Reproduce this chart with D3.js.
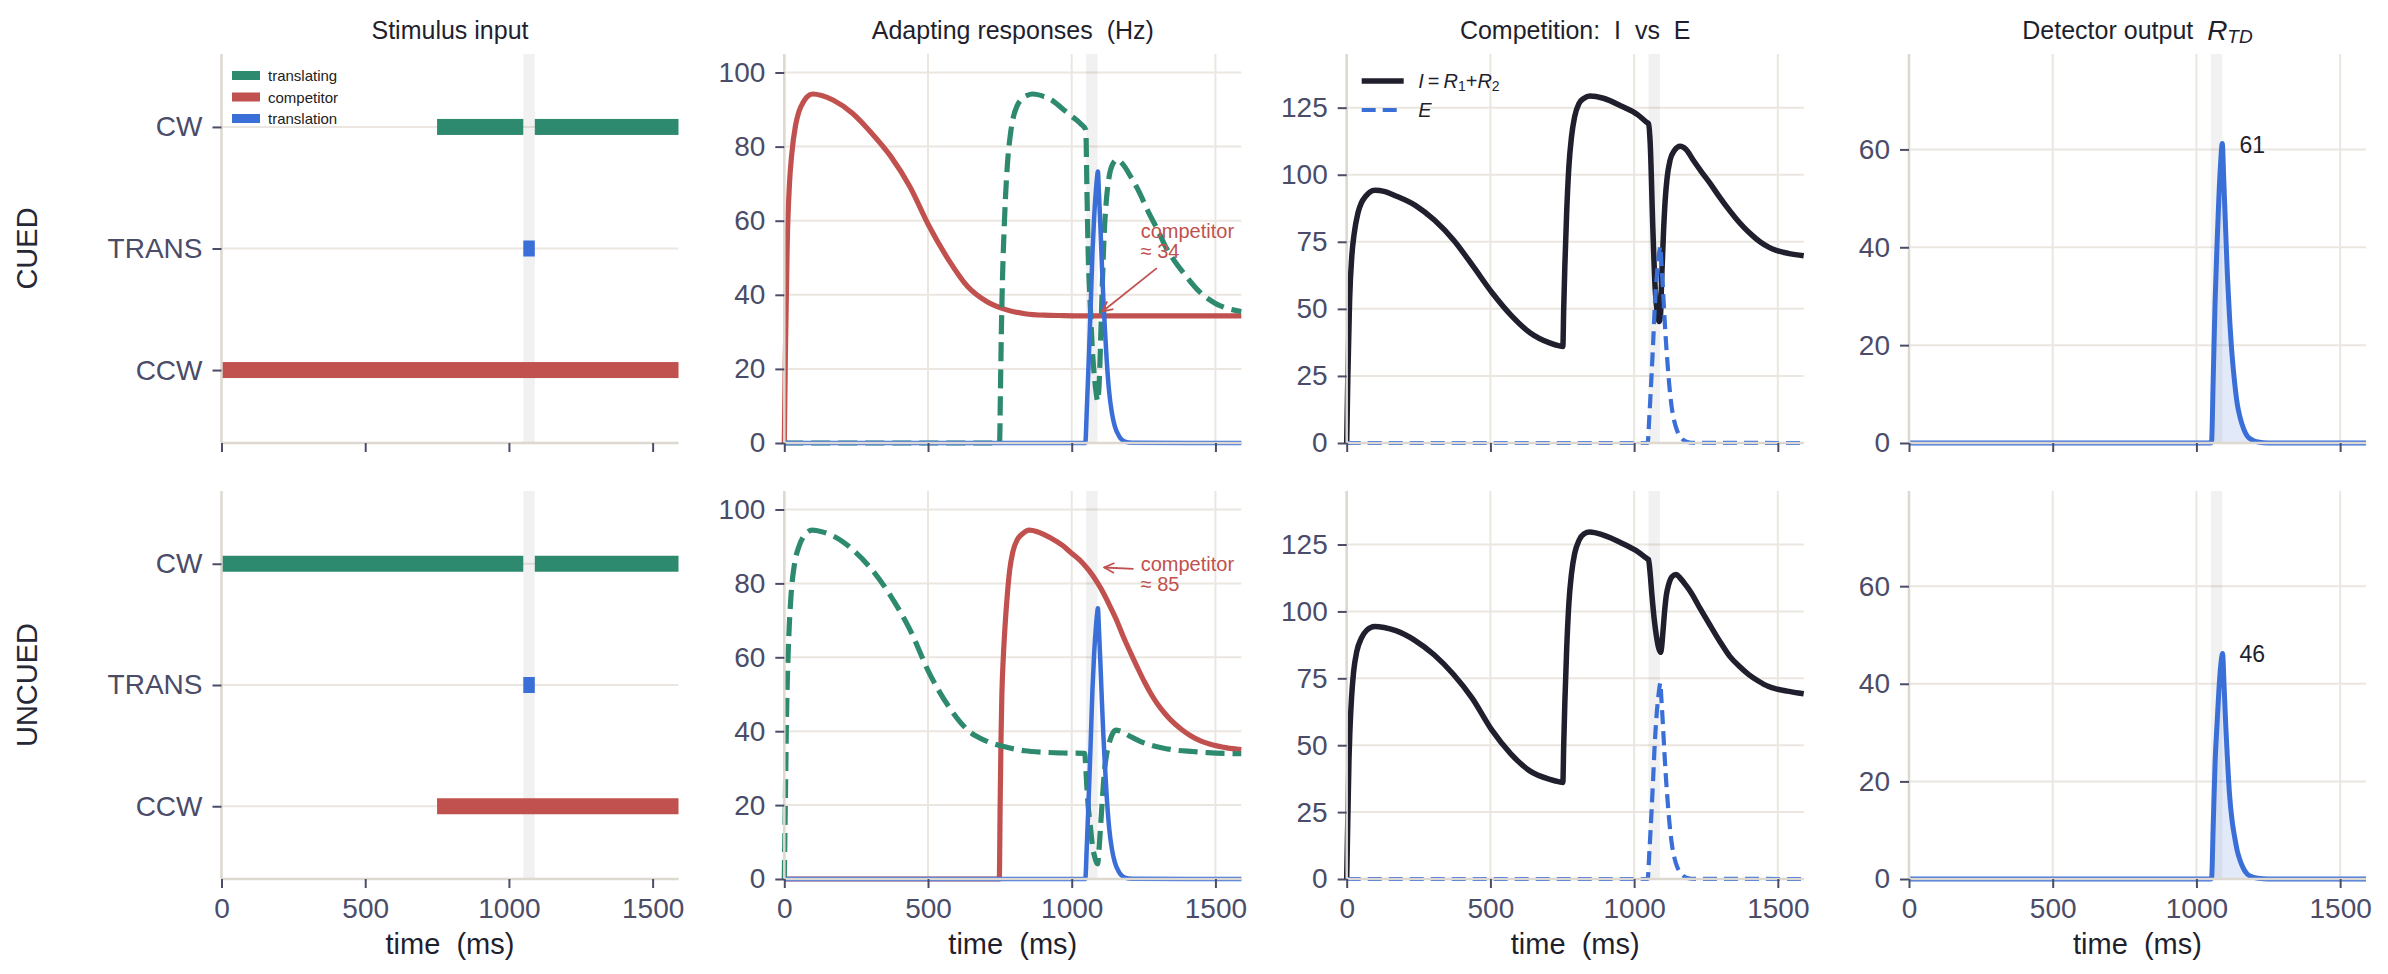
<!DOCTYPE html>
<html><head><meta charset="utf-8">
<script src="https://cdn.jsdelivr.net/npm/d3@7"></script>
<style>
body{margin:0;background:#fff;}
svg{display:block;}
</style>
</head><body>
<svg id="chart" width="2388" height="974"></svg>
<script>
// ---------------- DATA ----------------
const timeDomain = [0, 1590];
const timeTicks = [0, 500, 1000, 1500];
const translationWindow = [1050, 1090];
const stimCategories = ["CCW", "TRANS", "CW"];
const stimLegend = ["translating", "competitor", "translation"];
const columnTitles = ["Stimulus input", "Adapting responses  (Hz)", "Competition:  I  vs  E", "Detector output  "];
const rowNames = ["CUED", "UNCUED"];
const rateTicks = [0, 20, 40, 60, 80, 100];
const competitionTicks = [0, 25, 50, 75, 100, 125];
const detectorTicks = [0, 20, 40, 60];

// stimulus on-intervals (ms)
const cuedTranslatingOn = [[750, 1050], [1090, 1590]];
const cuedCompetitorOn = [[0, 1590]];
const uncuedTranslatingOn = [[0, 1050], [1090, 1590]];
const uncuedCompetitorOn = [[750, 1590]];
const translationOn = [[1050, 1090]];

// responses [time ms, value]
const cuedCompetitor = [[0,0],[4,25],[10,53],[18,70],[26,78],[39,85.7],[51,89.5],[66,92],[80,93.5],[99,94.2],[130,93.8],[171,92.5],[237,89],[304,83.6],[371,77.3],[437,69.2],[504,58.5],[571,49.5],[637,42.3],[704,38.2],[771,36],[837,34.9],[904,34.5],[971,34.4],[1100,34.3],[1590,34.3]];
const cuedTranslating = [[0,0],[749,0],[752,14],[755,29],[759,44],[764,56],[770,67],[777,76],[787,83.5],[797,88],[810,91],[824,92.7],[844,93.8],[864,94.2],[904,93.5],[930,92.6],[971,90],[1000,88.2],[1031,86.2],[1049,84.5],[1053,68],[1057,52],[1064,38],[1072,25],[1080,17],[1086,13],[1090,11.3],[1094,14],[1098,21],[1101,29],[1107,44],[1113,56.5],[1120,65],[1130,71.8],[1142,75.2],[1158,76.5],[1175,75.5],[1206,71.8],[1237,67.4],[1264,62.8],[1304,56.7],[1322,53.7],[1371,47.7],[1392,45.6],[1437,41.4],[1461,39.7],[1504,37.5],[1531,36.6],[1590,35.5]];
const translationResponse = [[0,0],[1047,0],[1053,10],[1060,24],[1066,37],[1072,51],[1078,61],[1084,68],[1088,71.5],[1091,73.3],[1095,67],[1100,58],[1105,48],[1110,39],[1116,30],[1122,22],[1130,14],[1140,8],[1150,4.5],[1165,1.8],[1185,0.4],[1210,0.05],[1590,0]];
const cuedInhibition = [[0,0],[4,25],[10,53],[18,70],[26,78],[39,85.7],[51,89.5],[66,92],[80,93.5],[99,94.2],[130,93.8],[173,92],[240,88.5],[306,83],[373,75.5],[439,66],[506,56],[573,47.5],[639,41],[706,37.3],[740,36.2],[752,36],[755,50],[759,66],[765,85],[773,103],[782,114],[793,121.6],[808,126.5],[826,128.5],[846,129.3],[893,128.5],[959,125.4],[1013,122.3],[1044,119.5],[1050,119],[1056,111.6],[1065,80.5],[1073,58],[1080,49],[1087,45.3],[1092,48],[1096,61.7],[1102,78],[1108,90.4],[1115,99],[1125,105.4],[1140,109],[1160,110.6],[1180,109.5],[1206,105.4],[1235,101],[1265,96.7],[1295,92],[1323,87.9],[1352,84],[1381,80.5],[1410,77.5],[1439,74.9],[1468,73],[1497,71.7],[1540,70.6],[1590,69.8]];
const cuedDetector = [[0,0],[1050,0],[1053,0.5],[1058,12],[1065,29],[1072,41],[1078,50],[1084,57],[1090,61.2],[1095,54],[1102,43],[1108,34],[1115,26],[1124,18],[1133,12.3],[1142,8],[1152,5.2],[1165,2.8],[1177,1.4],[1195,0.6],[1214,0.2],[1250,0],[1590,0]];

const uncuedTranslating = [[0,0],[4,23],[8,45],[11,55],[17,68],[24,77.4],[35,85],[51,90],[70,93],[97,94.4],[130,94],[171,92.8],[237,89.2],[304,83.8],[371,76.5],[437,67.5],[504,55.8],[571,46.8],[637,40.4],[704,37.3],[771,35.7],[837,34.7],[904,34.3],[971,34.1],[1045,34],[1049,30],[1052,25.8],[1058,19],[1064,14.9],[1072,9],[1080,6],[1090,4.1],[1095,8],[1101,14.9],[1107,22],[1113,28.5],[1120,33],[1130,36.7],[1140,39],[1153,40.3],[1170,40],[1206,38.5],[1240,37.2],[1276,36.2],[1320,35.4],[1369,34.8],[1420,34.5],[1473,34.2],[1590,33.9]];
const uncuedCompetitor = [[0,0],[748,0],[751,20],[754,38],[757,50],[762,60],[768,68.4],[776,77],[784,83.5],[795,88.5],[811,91.9],[830,93.5],[851,94.4],[880,94],[904,93.2],[927,92.3],[971,90.1],[996,88.4],[1037,85.6],[1060,83.5],[1091,80],[1113,77],[1135,73.5],[1159,69.5],[1180,65.5],[1206,61],[1230,57],[1252,53.5],[1275,50.2],[1299,47.3],[1322,45],[1345,43],[1380,40.6],[1415,38.7],[1450,37.3],[1485,36.4],[1540,35.5],[1590,35]];
const uncuedInhibition = [[0,0],[4,23],[8,45],[11,55],[17,68],[24,77.4],[35,85],[51,90],[70,93],[97,94.4],[130,94],[171,92.8],[237,89.2],[304,83.8],[371,76.5],[437,67.5],[504,55.8],[571,46.8],[637,40.4],[704,37.3],[740,36.3],[752,36.1],[755,50],[759,66],[765,85],[773,103],[782,114],[793,121.6],[808,126.5],[826,129],[846,129.7],[893,128.5],[959,125.4],[1013,122.3],[1044,119.8],[1050,119.4],[1056,114],[1062,106],[1070,97],[1078,90.5],[1085,86.5],[1092,84.7],[1096,87],[1100,92],[1106,100],[1112,106],[1120,110],[1132,113],[1146,113.8],[1160,112.5],[1180,109.8],[1199,106.9],[1230,101],[1266,94.5],[1300,88.5],[1333,83.2],[1366,79.5],[1399,76.4],[1432,74],[1466,72],[1500,70.9],[1533,70.2],[1590,69.2]];
const uncuedDetector = [[0,0],[1050,0],[1053,0.3],[1058,10],[1065,24],[1072,32],[1078,38.5],[1085,44],[1091,46.2],[1096,40],[1102,31.5],[1108,24.5],[1115,17.5],[1124,12],[1133,8.6],[1142,5.8],[1152,3.8],[1165,2],[1177,1],[1195,0.4],[1214,0.15],[1250,0],[1590,0]];

// annotations
const cuedNote = {lines: ["competitor", "\u2248 34"], at: [1240, 57.1], arrow: [[1296, 47.2], [1107, 35.5]]};
const uncuedNote = {lines: ["competitor", "\u2248 85"], at: [1240, 85.3], arrow: [[1215, 83.9], [1113, 84.3]]};
const cuedPeak = {t: 1150, value: 61, label: "61"};
const uncuedPeak = {t: 1150, value: 46, label: "46"};

// ---------------- STYLE / LAYOUT ----------------
const FONT = '"Liberation Sans", Arial, Helvetica, sans-serif';
const COL = {green: "#2e8a6e", red: "#c1514e", blue: "#3b6fd8", black: "#1f1f2d",
  tick: "#4a4c68", title: "#1f1f2e", grid: "#ebe7e0", spine: "#ddd8d0"};
const panelLeft = [221.5, 784.3, 1346.7, 1909];
const panelWidth = 457;
const rowBox = [[54, 443], [491, 879]];

const svg = d3.select("#chart").attr("font-family", FONT);
svg.append("defs").append("marker")
  .attr("id", "arrowhead").attr("viewBox", "0 0 12 12").attr("refX", 11).attr("refY", 6)
  .attr("markerWidth", 12).attr("markerHeight", 12).attr("markerUnits", "userSpaceOnUse")
  .attr("orient", "auto")
  .append("path").attr("d", "M1,1 L11,6 L1,11").attr("fill", "none")
  .attr("stroke", COL.red).attr("stroke-width", 1.8);

const rows = [
  {translating: cuedTranslating, competitor: cuedCompetitor, inhibition: cuedInhibition, detector: cuedDetector,
   translatingOn: cuedTranslatingOn, competitorOn: cuedCompetitorOn, note: cuedNote, peak: cuedPeak},
  {translating: uncuedTranslating, competitor: uncuedCompetitor, inhibition: uncuedInhibition, detector: uncuedDetector,
   translatingOn: uncuedTranslatingOn, competitorOn: uncuedCompetitorOn, note: uncuedNote, peak: uncuedPeak}
];

function styleAxis(g, showLabels) {
  g.attr("font-family", FONT).attr("font-size", 28);
  g.select(".domain").attr("stroke", COL.spine).attr("stroke-width", 2.5);
  g.selectAll(".tick line").attr("stroke", COL.tick).attr("stroke-width", 2);
  g.selectAll(".tick text").attr("fill", COL.tick);
  if (!showLabels) g.selectAll(".tick text").remove();
}

function drawPanel(col, r) {
  const data = rows[r];
  const left = panelLeft[col], right = left + panelWidth;
  const top = rowBox[r][0], bottom = rowBox[r][1];
  const g = svg.append("g");
  const x = d3.scaleLinear().domain(timeDomain).range([left, right]);
  let y, yTicks;
  if (col === 0) { y = d3.scaleLinear().domain([-0.6, 2.6]).range([bottom, top]); yTicks = [0, 1, 2]; }
  else if (col === 1) { y = d3.scaleLinear().domain([0, 105]).range([bottom, top]); yTicks = rateTicks; }
  else if (col === 2) { y = d3.scaleLinear().domain([0, 145]).range([bottom, top]); yTicks = competitionTicks; }
  else { y = d3.scaleLinear().domain([0, 79.5]).range([bottom, top]); yTicks = detectorTicks; }

  // grid
  const grid = g.append("g").attr("stroke", COL.grid).attr("stroke-width", 2);
  grid.selectAll("line.h").data(yTicks).join("line")
    .attr("x1", left).attr("x2", right).attr("y1", d => y(d)).attr("y2", d => y(d));
  if (col > 0) {
    grid.selectAll("line.v").data(timeTicks).join("line")
      .attr("x1", d => x(d)).attr("x2", d => x(d)).attr("y1", top).attr("y2", bottom);
  }
  // translation window band
  g.append("rect").attr("x", x(translationWindow[0])).attr("width", x(translationWindow[1]) - x(translationWindow[0]))
    .attr("y", top).attr("height", bottom - top).attr("fill", "#000").attr("fill-opacity", 0.055);

  const line = d3.line().x(d => x(d[0])).y(d => y(d[1])).curve(d3.curveMonotoneX);

  if (col === 0) {
    const bars = [
      {on: data.translatingOn, cat: 2, color: COL.green},
      {on: data.competitorOn, cat: 0, color: COL.red},
      {on: translationOn, cat: 1, color: COL.blue}
    ];
    bars.forEach(b => {
      g.selectAll(null).data(b.on).join("rect")
        .attr("x", d => x(d[0])).attr("width", d => x(d[1]) - x(d[0]))
        .attr("y", y(b.cat) - 8).attr("height", 16).attr("fill", b.color);
    });
  } else if (col === 1) {
    g.append("path").datum(data.competitor).attr("d", line).attr("fill", "none")
      .attr("stroke", COL.red).attr("stroke-width", 5.2).attr("stroke-linejoin", "round");
    g.append("path").datum(data.translating).attr("d", line).attr("fill", "none")
      .attr("stroke", COL.green).attr("stroke-width", 5.2).attr("stroke-dasharray", "19,8");
    g.append("path").datum(translationResponse).attr("d", line).attr("fill", "none")
      .attr("stroke", COL.blue).attr("stroke-width", 4.5).attr("stroke-linejoin", "round");
  } else if (col === 2) {
    g.append("path").datum(data.inhibition).attr("d", line).attr("fill", "none")
      .attr("stroke", COL.black).attr("stroke-width", 5.5).attr("stroke-linejoin", "round");
    g.append("path").datum(translationResponse).attr("d", line).attr("fill", "none")
      .attr("stroke", COL.blue).attr("stroke-width", 4.2).attr("stroke-dasharray", "14,7");
  } else {
    const area = d3.area().x(d => x(d[0])).y0(y(0)).y1(d => y(d[1])).curve(d3.curveMonotoneX);
    g.append("path").datum(data.detector).attr("d", area).attr("fill", COL.blue).attr("fill-opacity", 0.15);
    g.append("path").datum(data.detector).attr("d", line).attr("fill", "none")
      .attr("stroke", COL.blue).attr("stroke-width", 5).attr("stroke-linejoin", "round");
  }

  // axes (spines on top of lines)
  const xAxis = g.append("g").attr("transform", `translate(0,${bottom})`)
    .call(d3.axisBottom(x).tickValues(timeTicks).tickFormat(d3.format("d"))
      .tickSize(9).tickSizeOuter(0).tickPadding(10));
  styleAxis(xAxis, r === 1);
  const yAxisGen = d3.axisLeft(y).tickValues(yTicks).tickSize(9).tickSizeOuter(0).tickPadding(10);
  if (col === 0) yAxisGen.tickFormat(i => stimCategories[i]); else yAxisGen.tickFormat(d3.format("d"));
  const yAxis = g.append("g").attr("transform", `translate(${left},0)`).call(yAxisGen);
  styleAxis(yAxis, true);
  yAxis.select(".domain").attr("d", `M0,${top}V${bottom}`);
  xAxis.select(".domain").attr("d", `M${left},0H${right}`);

  // extras
  if (col === 0 && r === 0) {
    const legendColors = [COL.green, COL.red, COL.blue];
    stimLegend.forEach((lab, i) => {
      const cy = top + 21.5 + i * 21.5;
      g.append("rect").attr("x", left + 10.5).attr("y", cy - 4.5).attr("width", 28).attr("height", 9).attr("fill", legendColors[i]);
      g.append("text").attr("x", left + 46.5).attr("y", cy).attr("dominant-baseline", "central")
        .attr("font-size", 15).attr("fill", "#222").text(lab);
    });
  }
  if (col === 1) {
    const n = data.note;
    g.append("line").attr("x1", x(n.arrow[0][0])).attr("y1", y(n.arrow[0][1]))
      .attr("x2", x(n.arrow[1][0])).attr("y2", y(n.arrow[1][1]))
      .attr("stroke", COL.red).attr("stroke-width", 1.8).attr("marker-end", "url(#arrowhead)");
    n.lines.forEach((s, i) => {
      g.append("text").attr("x", x(n.at[0])).attr("y", y(n.at[1]) + i * 20)
        .attr("dominant-baseline", "central").attr("font-size", 20).attr("fill", COL.red).text(s);
    });
  }
  if (col === 2 && r === 0) {
    const l1y = top + 27, l2y = top + 56;
    g.append("line").attr("x1", left + 15).attr("x2", left + 57).attr("y1", l1y).attr("y2", l1y)
      .attr("stroke", COL.black).attr("stroke-width", 5.5);
    g.append("line").attr("x1", left + 15).attr("x2", left + 57).attr("y1", l2y).attr("y2", l2y)
      .attr("stroke", COL.blue).attr("stroke-width", 4.2).attr("stroke-dasharray", "14,7");
    const t1 = g.append("text").attr("x", left + 71.5).attr("y", l1y).attr("dominant-baseline", "central")
      .attr("font-size", 20).attr("fill", COL.title);
    t1.append("tspan").attr("font-style", "italic").text("I");
    t1.append("tspan").text("\u2009=\u2009");
    t1.append("tspan").attr("font-style", "italic").text("R");
    t1.append("tspan").attr("font-size", 14).attr("dy", 5).text("1");
    t1.append("tspan").attr("dy", -5).text("+");
    t1.append("tspan").attr("font-style", "italic").text("R");
    t1.append("tspan").attr("font-size", 14).attr("dy", 5).text("2");
    g.append("text").attr("x", left + 71.5).attr("y", l2y).attr("dominant-baseline", "central")
      .attr("font-size", 20).attr("font-style", "italic").attr("fill", COL.title).text("E");
  }
  if (col === 3) {
    const p = data.peak;
    g.append("text").attr("x", x(p.t)).attr("y", y(p.value)).attr("dominant-baseline", "central")
      .attr("font-size", 23).attr("fill", COL.title).text(p.label);
  }
  // titles
  if (r === 0) {
    const t = g.append("text").attr("x", (left + right) / 2).attr("y", 30).attr("text-anchor", "middle")
      .attr("dominant-baseline", "central").attr("font-size", 25).attr("fill", COL.title)
      .style("white-space", "pre").text(columnTitles[col]);
    if (col === 3) {
      t.append("tspan").attr("font-style", "italic").attr("font-size", 28).text("R");
      t.append("tspan").attr("font-style", "italic").attr("font-size", 19).attr("dy", 6).text("TD");
    }
  }
  if (r === 1) {
    g.append("text").attr("x", (left + right) / 2).attr("y", 944).attr("text-anchor", "middle")
      .attr("dominant-baseline", "central").attr("font-size", 29).attr("fill", COL.title)
      .style("white-space", "pre").text("time  (ms)");
  }
  if (col === 0) {
    g.append("text").attr("transform", `translate(27,${(top + bottom) / 2}) rotate(-90)`)
      .attr("text-anchor", "middle").attr("dominant-baseline", "central")
      .attr("font-size", 29).attr("fill", "#262838").text(rowNames[r]);
  }
}

for (let r = 0; r < 2; r++) for (let c = 0; c < 4; c++) drawPanel(c, r);
</script>
</body></html>
